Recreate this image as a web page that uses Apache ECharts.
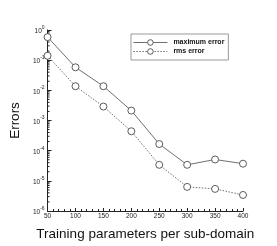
<!DOCTYPE html>
<html><head><meta charset="utf-8">
<script src="https://cdn.jsdelivr.net/npm/echarts@6/dist/echarts.min.js"></script>
<style>html,body{margin:0;padding:0;background:#fff}#c{width:277px;height:246px}</style>
</head><body><div id="c"></div>
<script>
const categories = [50, 100, 150, 200, 250, 300, 350, 400];
const maxError = [0.58, 0.058, 0.0137, 0.00213, 1.66e-4, 3.4e-5, 5.1e-5, 3.7e-5];
const rmsError = [0.14, 0.0137, 0.0029, 4.4e-4, 3.4e-5, 6.3e-6, 5.4e-6, 3.4e-6];
const seriesNames = ['maximum error', 'rms error'];
const yMinorTicks = [];
for (let e = -6; e < 0; e++) for (let k = 2; k <= 9; k++) yMinorTicks.push(k * Math.pow(10, e));

const chart = echarts.init(document.getElementById('c'));
const lineColor = '#4a4a4a';
const font = 'Liberation Sans, Arial, sans-serif';
chart.setOption({
  animation: false,
  backgroundColor: '#fff',
  grid: { left: 37, right: 34, top: 30, bottom: 28 },
  legend: {
    orient: 'vertical', left: 131, top: 34,
    backgroundColor: '#fff', borderColor: '#999', borderWidth: 1,
    padding: [5, 4, 5, 2], itemGap: 2, itemWidth: 34, itemHeight: 7,
    itemStyle: { color: '#fff', borderColor: lineColor, borderWidth: 0.9 },
    lineStyle: { width: 0.8, color: lineColor },
    textStyle: { fontFamily: font, fontSize: 7, fontWeight: 'bold', color: '#111', padding: [0, 0, 0, 1] },
    data: seriesNames
  },
  xAxis: {
    type: 'value', min: 50, max: 400, interval: 50,
    name: 'Training parameters per sub-domain', nameLocation: 'middle', nameGap: 16,
    nameTextStyle: { fontFamily: font, fontSize: 13.5, color: '#111' },
    axisLine: { lineStyle: { color: '#222', width: 1 } },
    axisTick: { inside: true, length: 3, lineStyle: { color: '#222' } },
    minorTick: { show: true, splitNumber: 5, length: 2, lineStyle: { color: '#222' } },
    splitLine: { show: false },
    axisLabel: { fontFamily: font, fontSize: 6.5, color: '#222', margin: 2 }
  },
  yAxis: {
    type: 'log', logBase: 10, min: 1e-6, max: 1,
    name: 'Errors', nameLocation: 'middle', nameGap: 17, nameRotate: 90,
    nameTextStyle: { fontFamily: font, fontSize: 13.5, color: '#111' },
    axisLine: { lineStyle: { color: '#222', width: 1 } },
    axisTick: { inside: true, length: 4, lineStyle: { color: '#222' } },
    splitLine: { show: false },
    axisLabel: {
      margin: 3,
      formatter: function (v) { return '{b|10}{s|' + Math.round(Math.log10(v)) + '}'; },
      rich: {
        b: { fontFamily: font, fontSize: 6.5, color: '#222', padding: [3, 0, 0, 0] },
        s: { fontFamily: font, fontSize: 5, color: '#222', verticalAlign: 'top' }
      }
    }
  },
  series: [
    {
      name: seriesNames[0], type: 'line', data: categories.map((c, i) => [c, maxError[i]]),
      symbol: 'circle', symbolSize: 7, showSymbol: true,
      itemStyle: { color: '#fff', borderColor: lineColor, borderWidth: 0.9 },
      lineStyle: { color: lineColor, width: 0.8, type: 'solid' }, z: 3
    },
    {
      name: seriesNames[1], type: 'line', data: categories.map((c, i) => [c, rmsError[i]]),
      symbol: 'circle', symbolSize: 7, showSymbol: true,
      itemStyle: { color: '#fff', borderColor: lineColor, borderWidth: 0.9 },
      lineStyle: { color: lineColor, width: 0.8, type: [1.5, 1.5] }, z: 3
    },
    {
      type: 'custom', silent: true, z: 2,
      data: yMinorTicks.map(v => [50, v]),
      renderItem: function (params, api) {
        const p = api.coord([api.value(0), api.value(1)]);
        return { type: 'line', shape: { x1: p[0], y1: p[1], x2: p[0] + 2, y2: p[1] }, style: { stroke: '#222', lineWidth: 1 } };
      }
    }
  ]
});
</script></body></html>
